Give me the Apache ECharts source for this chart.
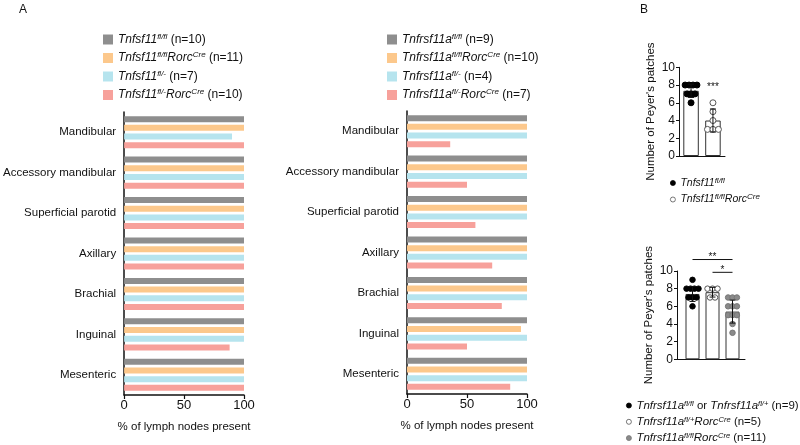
<!DOCTYPE html>
<html><head><meta charset="utf-8">
<script src="https://cdn.jsdelivr.net/npm/echarts@6/dist/echarts.min.js"></script>
<style>html,body{margin:0;padding:0;background:#fff}#c{width:800px;height:445px}</style>
</head><body><div id="c"></div>
<script>
// ---------- Data ----------
const categories = ['Mandibular','Accessory mandibular','Superficial parotid','Axillary','Brachial','Inguinal','Mesenteric'];
const xTicksA = [0, 50, 100];
// Panel A, left (Tnfsf11)
const tnfsfFlFl      = [100,100,100,100,100,100,100];
const tnfsfFlFlCre   = [100,100,100,100,100,100,100];
const tnfsfFlMinus   = [90,100,100,100,100,100,100];
const tnfsfFlMinusCre= [100,100,100,100,100,88,100];
// Panel A, right (Tnfrsf11a)
const tnfrsfFlFl      = [100,100,100,100,100,100,100];
const tnfrsfFlFlCre   = [100,100,100,100,100,95,100];
const tnfrsfFlMinus   = [100,100,100,100,100,100,100];
const tnfrsfFlMinusCre= [36,50,57,71,79,50,86];
// Panel B, top
const topCtrlDots = [8,8,8,8,7,7,7,6];
const topCreDots  = [6,5,4,3,3,3];
const topMeans = [7.35, 4.0];
const topSD    = [0.75, 1.3];
const topStars = ['***'];
const topStarY = [7.8];
// Panel B, bottom
const botCtrlDots  = [9,8,8,8,8,7,7,7,6];
const botHetCreDots= [8,8,8,7,7];
const botHomCreDots= [7,7,7,6,6,6,5,5,5,4,3];
const botMeans = [7.4, 7.6, 5.4];
const botSD    = [0.85, 0.55, 1.3];
const botSigFrom = [1, 2];
const botSigTo   = [3, 3];
const botSigY    = [11.3, 9.85];
const botSigText = ['**', '*'];
const yTicksB = [0, 2, 4, 6, 8, 10];

// ---------- Styles ----------
const FONT = "'Liberation Sans', Arial, Helvetica, sans-serif";
const GRAY = '#8e8e8e', ORANGE = '#fcc88c', CYAN = '#b6e4ee', RED = '#f7a19b';
const BLACK = '#111';

function richSet(size, supSize, lh) {
  return {
    i: {fontStyle:'italic', fontSize:size, lineHeight:lh, fontFamily:FONT, color:BLACK},
    n: {fontSize:size, lineHeight:lh, fontFamily:FONT, color:BLACK},
    s: {fontStyle:'italic', fontSize:supSize, lineHeight:supSize, verticalAlign:'top', fontFamily:FONT, color:BLACK}
  };
}

const legendTextA = {
  L1: '{i|Tnfsf11}{s|fl/fl}{n| (n=10)}',
  L2: '{i|Tnfsf11}{s|fl/fl}{i|Rorc}{s|Cre}{n| (n=11)}',
  L3: '{i|Tnfsf11}{s|fl/-}{n| (n=7)}',
  L4: '{i|Tnfsf11}{s|fl/-}{i|Rorc}{s|Cre}{n| (n=10)}',
  R1: '{i|Tnfrsf11a}{s|fl/fl}{n| (n=9)}',
  R2: '{i|Tnfrsf11a}{s|fl/fl}{i|Rorc}{s|Cre}{n| (n=10)}',
  R3: '{i|Tnfrsf11a}{s|fl/-}{n| (n=4)}',
  R4: '{i|Tnfrsf11a}{s|fl/-}{i|Rorc}{s|Cre}{n| (n=7)}',
  T1: '{i|Tnfsf11}{s|fl/fl}',
  T2: '{i|Tnfsf11}{s|fl/fl}{i|Rorc}{s|Cre}',
  B1: '{i|Tnfrsf11a}{s|fl/fl}{n| or }{i|Tnfrsf11a}{s|fl/+}{n| (n=9)}',
  B2: '{i|Tnfrsf11a}{s|fl/+}{i|Rorc}{s|Cre}{n| (n=5)}',
  B3: '{i|Tnfrsf11a}{s|fl/fl}{i|Rorc}{s|Cre}{n| (n=11)}'
};

// beeswarm-like horizontal spread of identical values
function jitter(values, center, step) {
  const counts = {}, seen = {};
  values.forEach(v => counts[v] = (counts[v] || 0) + 1);
  return values.map(v => {
    const k = seen[v] = (seen[v] === undefined ? 0 : seen[v] + 1);
    return [center + (k - (counts[v] - 1) / 2) * step, v];
  });
}

function catAxisA(gi) {
  return {type:'category', gridIndex:gi, data:categories, inverse:true,
    axisLine:{lineStyle:{color:BLACK, width:1.5}},
    axisTick:{alignWithLabel:true, length:5, lineStyle:{color:BLACK, width:1.2}},
    axisLabel:{margin:8, fontSize:11.5, fontFamily:FONT, color:BLACK},
    splitLine:{show:false}};
}
function valAxisA(gi) {
  return {type:'value', gridIndex:gi, min:xTicksA[0], max:xTicksA[xTicksA.length-1], interval:xTicksA[1]-xTicksA[0],
    name:'% of lymph nodes present', nameLocation:'middle', nameGap:26,
    nameTextStyle:{fontSize:11.5, fontFamily:FONT, color:BLACK},
    axisLine:{show:true, lineStyle:{color:BLACK, width:1.5}},
    axisTick:{show:true, length:4, lineStyle:{color:BLACK, width:1.2}},
    axisLabel:{margin:4, fontSize:13, fontFamily:FONT, color:BLACK},
    splitLine:{show:false}};
}
function yAxisB(gi) {
  return {type:'value', gridIndex:gi, min:yTicksB[0], max:yTicksB[yTicksB.length-1], interval:yTicksB[1]-yTicksB[0],
    name:"Number of Peyer's patches", nameLocation:'middle', nameGap:22,
    nameTextStyle:{fontSize:11.5, fontFamily:FONT, color:BLACK},
    axisLine:{show:true, lineStyle:{color:BLACK, width:1}},
    axisTick:{show:true, length:3, lineStyle:{color:BLACK, width:1}},
    axisLabel:{margin:4, fontSize:12, fontFamily:FONT, color:BLACK},
    splitLine:{show:false}};
}
function xAxisB(gi, mn, mx) {
  return {type:'value', gridIndex:gi, min:mn, max:mx,
    axisLine:{show:true, onZero:false, lineStyle:{color:BLACK, width:1}},
    axisTick:{show:false}, axisLabel:{show:false}, splitLine:{show:false}};
}
function barA(name, data, color, gi) {
  return {type:'bar', name, data, xAxisIndex:gi, yAxisIndex:gi, barWidth:6, barGap:'45%',
    itemStyle:{color}, silent:true, animation:false};
}
function errorBars(gi, means, sds, cap) {
  return {type:'custom', xAxisIndex:gi, yAxisIndex:gi, z:10, animation:false, silent:true,
    data: means.map((m, i) => [i + 1, m, sds[i]]),
    encode:{x:0, y:1},
    renderItem(params, api) {
      const x = api.value(0), m = api.value(1), s = api.value(2);
      const t = api.coord([x, m + s]), b = api.coord([x, m - s]);
      const st = {stroke:BLACK, lineWidth:1};
      return {type:'group', children:[
        {type:'line', shape:{x1:t[0], y1:t[1], x2:b[0], y2:b[1]}, style:st},
        {type:'line', shape:{x1:t[0]-cap, y1:t[1], x2:t[0]+cap, y2:t[1]}, style:st},
        {type:'line', shape:{x1:b[0]-cap, y1:b[1], x2:b[0]+cap, y2:b[1]}, style:st}
      ]};
    }};
}
function barsB(gi, means, width) {
  return {type:'bar', xAxisIndex:gi, yAxisIndex:gi, barWidth:width, animation:false, silent:true, z:1,
    data: means.map((m, i) => [i + 1, m]),
    itemStyle:{color:'#fff', borderColor:'#333', borderWidth:1}};
}
function dotsB(name, gi, pts, size, fill, border) {
  return {type:'scatter', name, xAxisIndex:gi, yAxisIndex:gi, data:pts, symbol:'circle', symbolSize:size,
    z:5, animation:false, silent:true,
    itemStyle:{color:fill, borderColor:border, borderWidth:1, opacity:1}};
}

const option = {
  animation:false,
  textStyle:{fontFamily:FONT},
  graphic:[
    {type:'text', left:19, top:4, style:{text:'A', fontSize:12, fontFamily:FONT, fill:BLACK}},
    {type:'text', left:640, top:4, style:{text:'B', fontSize:12, fontFamily:FONT, fill:BLACK}}
  ],
  legend:[
    {data:['L1','L2','L3','L4'], left:103, top:32.5, padding:0, orient:'vertical', icon:'rect', itemWidth:10, itemHeight:10,
      itemGap:5.5, selectedMode:false, formatter:n => legendTextA[n], textStyle:{rich:richSet(12, 8, 14)}},
    {data:['R1','R2','R3','R4'], left:387, top:32.5, padding:0, orient:'vertical', icon:'rect', itemWidth:10, itemHeight:10,
      itemGap:5.5, selectedMode:false, formatter:n => legendTextA[n], textStyle:{rich:richSet(12, 8, 14)}},
    {data:['T1','T2'], left:670, top:176.5, padding:0, orient:'vertical', icon:'circle', itemWidth:5, itemHeight:5,
      itemGap:4.5, itemStyle:{borderWidth:0.8}, selectedMode:false, formatter:n => legendTextA[n], textStyle:{rich:richSet(10.5, 8, 13)}},
    {data:['B1','B2','B3'], left:626, top:399.5, padding:0, height:60, orient:'vertical', icon:'circle', itemWidth:5, itemHeight:5,
      itemGap:4.3, itemStyle:{borderWidth:0.8}, selectedMode:false, formatter:n => legendTextA[n], textStyle:{rich:richSet(11.5, 7.5, 12)}}
  ],
  grid:[
    {left:124, top:112, width:120, height:283},
    {left:407, top:111, width:120, height:283},
    {left:679, top:67.3, width:46, height:88.7},
    {left:677, top:271, width:68, height:88.3}
  ],
  xAxis:[valAxisA(0), valAxisA(1), xAxisB(2, 0.45, 2.55), xAxisB(3, 0.225, 3.625)],
  yAxis:[catAxisA(0), catAxisA(1), yAxisB(2), yAxisB(3)],
  series:[
    barA('L1', tnfsfFlFl, GRAY, 0), barA('L2', tnfsfFlFlCre, ORANGE, 0),
    barA('L3', tnfsfFlMinus, CYAN, 0), barA('L4', tnfsfFlMinusCre, RED, 0),
    barA('R1', tnfrsfFlFl, GRAY, 1), barA('R2', tnfrsfFlFlCre, ORANGE, 1),
    barA('R3', tnfrsfFlMinus, CYAN, 1), barA('R4', tnfrsfFlMinusCre, RED, 1),
    barsB(2, topMeans, 15.5),
    dotsB('T1', 2, jitter(topCtrlDots, 1, 0.18), 6, '#000', '#000'),
    dotsB('T2', 2, jitter(topCreDots, 2, 0.25), 6, '#fff', '#555'),
    errorBars(2, topMeans, topSD, 3),
    {type:'custom', xAxisIndex:2, yAxisIndex:2, z:11, silent:true, animation:false,
      data: topStars.map((s, i) => [2, topStarY[i]]), encode:{x:0, y:1},
      renderItem(params, api) {
        const p = api.coord([api.value(0), api.value(1)]);
        return {type:'text', x:p[0], y:p[1], style:{text:topStars[params.dataIndex], fontSize:10, fontFamily:FONT,
          fill:BLACK, align:'center', verticalAlign:'middle'}};
      }},
    barsB(3, botMeans, 14),
    dotsB('B1', 3, jitter(botCtrlDots, 1, 0.2), 5.5, '#000', '#000'),
    dotsB('B2', 3, jitter(botHetCreDots, 2, 0.25), 5.5, '#fff', '#555'),
    dotsB('B3', 3, jitter(botHomCreDots, 3, 0.22), 5.5, '#8a8a8a', '#777'),
    errorBars(3, botMeans, botSD, 3),
    {type:'custom', xAxisIndex:3, yAxisIndex:3, z:11, silent:true, animation:false, clip:false,
      data: botSigY.map((y, i) => [botSigFrom[i], botSigTo[i], y]), encode:{x:[0,1], y:2},
      renderItem(params, api) {
        const a = api.coord([api.value(0), api.value(2)]), b = api.coord([api.value(1), api.value(2)]);
        return {type:'group', children:[
          {type:'line', shape:{x1:a[0], y1:a[1], x2:b[0], y2:b[1]}, style:{stroke:BLACK, lineWidth:1}},
          {type:'text', x:(a[0]+b[0])/2, y:a[1] + 3, style:{text:botSigText[params.dataIndex], fontSize:10,
            fontFamily:FONT, fill:BLACK, align:'center', verticalAlign:'bottom'}}
        ]};
      }}
  ]
};
const chart = echarts.init(document.getElementById('c'), null, {renderer:'canvas'});
chart.setOption(option);
</script>
</body></html>
